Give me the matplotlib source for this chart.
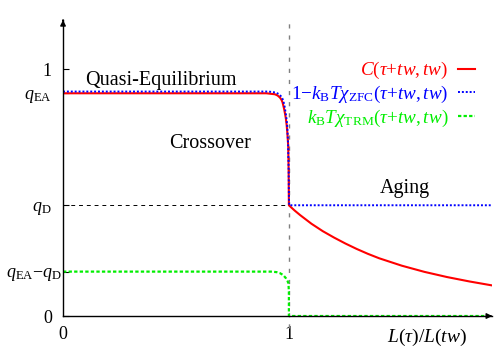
import matplotlib
matplotlib.use('Agg')
from matplotlib import pyplot as plt
from matplotlib.transforms import ScaledTranslation

plt.rcParams['font.family'] = 'Liberation Serif'
plt.rcParams['mathtext.fontset'] = 'custom'
plt.rcParams['mathtext.rm'] = 'Liberation Serif'
plt.rcParams['mathtext.it'] = 'Liberation Serif:italic'

q_ea = 0.903
q_d = 0.449
q_low = 0.18

# C(tau+tw, tw)
c_x = [0.0, 0.90, 0.938, 0.950, 0.960, 0.967, 0.972, 0.979, 0.984, 0.987,
       0.990, 0.993, 0.997, 0.999, 1.0,
       1.025, 1.05, 1.1, 1.15, 1.2, 1.25, 1.3, 1.35, 1.4, 1.5,
       1.6, 1.7, 1.8, 1.9]
c_y = [0.903, 0.903, 0.899, 0.894, 0.886, 0.877, 0.866, 0.839, 0.815, 0.798,
       0.775, 0.745, 0.690, 0.58, 0.449,
       0.428, 0.409, 0.374, 0.344, 0.318, 0.294, 0.272, 0.252, 0.234, 0.204,
       0.179, 0.158, 0.140, 0.124]

# 1 - kB T chi_ZFC
zfc_x = [0.0, 0.91, 0.942, 0.955, 0.964, 0.971, 0.976, 0.982, 0.987, 0.990,
         0.993, 0.996, 0.999, 1.0, 1.001, 1.9]
zfc_y = [0.910, 0.910, 0.906, 0.900, 0.892, 0.882, 0.870, 0.845, 0.815, 0.795,
         0.765, 0.710, 0.60, 0.50, 0.449, 0.449]

# kB T chi_TRM
trm_x = [0.0, 0.92, 0.945, 0.96, 0.975, 0.987, 0.994, 0.998, 1.0, 1.0, 1.9]
trm_y = [0.180, 0.180, 0.178, 0.174, 0.166, 0.153, 0.142, 0.132, 0.10, 0.0, 0.0]

ytick_pos = [0, q_low, q_d, q_ea, 1]
ytick_labels = ['0', r'$q_\mathrm{EA}{-}q_\mathrm{D}$', r'$q_\mathrm{D}$',
                r'$q_\mathrm{EA}$', '1']
xtick_pos = [0, 1]
xtick_labels = ['0', '1']

fig = plt.figure(figsize=(4.99, 3.5), dpi=100)
ax = fig.add_axes([0.1263, 0.0971, 0.86, 0.8457])

ax.plot([0, 1], [q_d, q_d], color='black', lw=0.7, ls=(0, (4, 4)))
ax.plot([1, 1], [-0.05, 1.2], color='gray', lw=1.0, ls=(0, (3, 5)), clip_on=False)

l1, = ax.plot(c_x, c_y, color='#ff0000', lw=1.5,
              label=r'$C(\tau{+}tw,tw)$')
l2, = ax.plot(zfc_x, zfc_y, color='#0000ff', lw=1.4, ls=(0, (1, 1)),
              label=r'$1{-}k_\mathrm{B}T\chi_\mathrm{ZFC}(\tau{+}tw,tw)$')
l3, = ax.plot(trm_x, trm_y, color='#00ee00', lw=1.6, ls=(0, (1.5, 1)),
              label=r'$k_\mathrm{B}T\chi_\mathrm{TRM}(\tau{+}tw,tw)$')

ax.set_xlim(0, 1.9)
ax.set_ylim(0, 1.2)
for s in ['top', 'right']:
    ax.spines[s].set_visible(False)
ax.spines['left'].set_linewidth(1.0)
ax.spines['bottom'].set_linewidth(1.0)

ax.set_yticks(ytick_pos)
ax.set_yticklabels(ytick_labels, fontsize=13)
ax.set_xticks(xtick_pos)
ax.set_xticklabels(xtick_labels, fontsize=13)
ax.tick_params(axis='y', direction='in', length=4, pad=8)
ax.tick_params(axis='x', direction='in', length=0, pad=7)

# the long label sits right against the axis in the original
lab = ax.get_yticklabels()[1]
lab.set_transform(lab.get_transform() + ScaledTranslation(7 / 72, 0, fig.dpi_scale_trans))

# axis arrows
ax.annotate('', xy=(1.0, 0), xytext=(0.99, 0), xycoords='axes fraction',
            arrowprops=dict(arrowstyle='-|>', color='black', lw=1, mutation_scale=8))
ax.annotate('', xy=(0, 1.0), xytext=(0, 0.99), xycoords='axes fraction',
            arrowprops=dict(arrowstyle='-|>', color='black', lw=1, mutation_scale=8))

ax.text(0.434, 0.955, 'Quasi-Equilibrium', ha='center', va='center', fontsize=14.5)
ax.text(0.65, 0.70, 'Crossover', ha='center', va='center', fontsize=14.5)
ax.text(1.513, 0.518, 'Aging', ha='center', va='center', fontsize=14.5)
ax.text(1.61, -0.085, r'$L(\tau)/L(tw)$', ha='center', va='center', fontsize=14)

leg = ax.legend(handles=[l1, l2, l3], loc='upper right', bbox_to_anchor=(0.978, 0.89),
                frameon=False, markerfirst=False, labelcolor='linecolor',
                fontsize=13.8, handlelength=0.9, handletextpad=0.5,
                labelspacing=0.13, borderaxespad=0)

fig.savefig('out.png', dpi=100)
